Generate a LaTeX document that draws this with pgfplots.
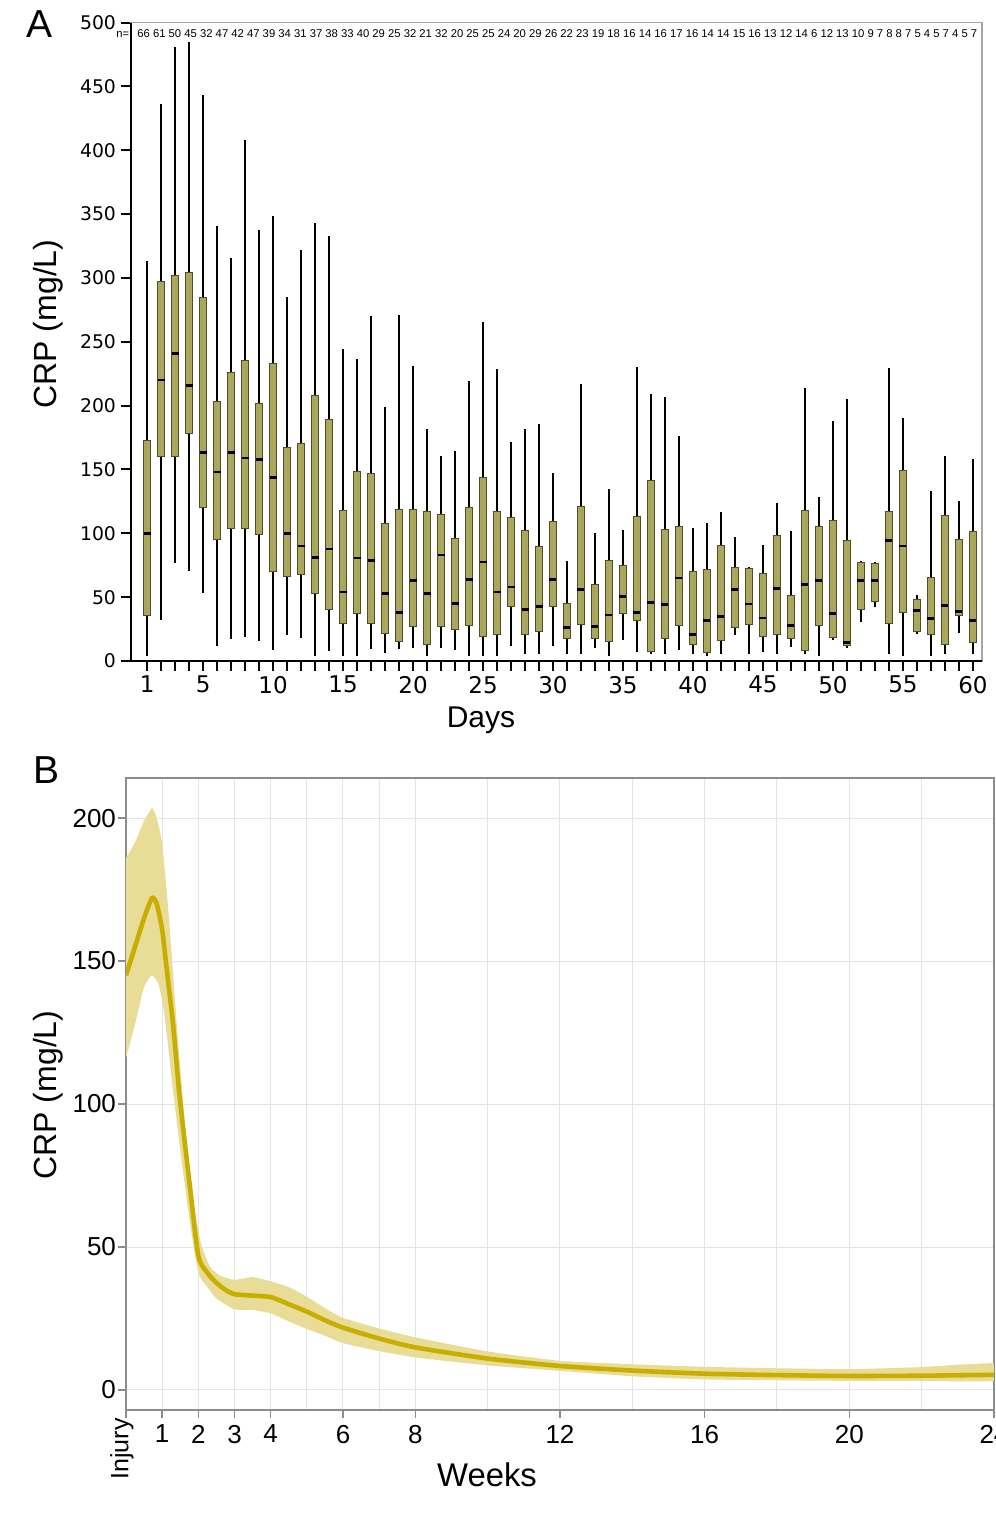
\documentclass[border=0pt]{standalone}
\usepackage{fontspec}
\setmainfont{Liberation Sans}
\newfontfamily\dejavu{DejaVu Sans}
\usepackage{pgfplots}
\pgfplotsset{compat=1.18}
\usepgfplotslibrary{statistics}

\definecolor{boxfill}{RGB}{170,166,92}
\definecolor{boxdraw}{RGB}{80,78,40}
\definecolor{meanline}{RGB}{200,174,0}
\definecolor{band}{RGB}{232,220,150}
\definecolor{gridc}{RGB}{228,228,228}
\definecolor{spineB}{RGB}{140,140,140}

\newcommand{\bx}[6]{\addplot[boxplot prepared={draw position=#1, lower whisker=#2, lower quartile=#3, median=#4, upper quartile=#5, upper whisker=#6, box extend=0.5, whisker extend=0.1}] coordinates {};}

\begin{document}
\begin{tikzpicture}
\useasboundingbox (0pt,0pt) rectangle (498pt,-764pt);
\fill[white] (0pt,0pt) rectangle (498pt,-764pt);

% ---------------- Panel A ----------------
\begin{axis}[
  scale only axis, width=425.5pt, height=319.25pt,
  at={(65.5pt,-330.5pt)}, anchor=south west,
  xmin=-0.15, xmax=60.65, ymin=0, ymax=500,
  clip=false,
  axis line style={draw=gray!70, line width=0.6pt},
  tick pos=left, tick align=outside,
  xtick={1,5,10,15,20,25,30,35,40,45,50,55,60},
  minor xtick={1,...,60},
  ytick={0,50,...,500},
  major tick length=5pt, minor tick length=5pt,
  tick style={black, line width=1pt},
  minor tick style={black, line width=1pt},
  /pgf/number format/assume math mode=true,
  yticklabel style={font=\dejavu\fontsize{9.4}{10}\selectfont, xshift=1pt},
  xticklabel style={font=\dejavu\fontsize{11.5}{12}\selectfont, yshift=1pt},
  boxplot/draw direction=y,
  boxplot/every box/.style={fill=boxfill, draw=boxdraw, line width=0.5pt},
  boxplot/every whisker/.style={black, line width=1.1pt},
  boxplot/every median/.style={black, line width=1.4pt},
]
\bx{1}{4.7}{36}{100}{173}{312}
\bx{2}{33}{160}{220}{297}{435}
\bx{3}{78}{160}{241}{302}{480}
\bx{4}{71}{178}{216}{304}{484}
\bx{5}{54}{120}{163}{285}{442}
\bx{6}{13}{95.5}{148}{203}{340}
\bx{7}{18}{104}{163}{226}{315}
\bx{8}{20}{104}{159}{235}{407}
\bx{9}{16.5}{99}{158}{202}{337}
\bx{10}{9.4}{70}{144}{233}{348}
\bx{11}{21}{66}{100}{167}{284}
\bx{12}{18.6}{67.5}{90}{170}{321}
\bx{13}{4.7}{52.6}{81}{208}{342}
\bx{14}{9}{40}{87.7}{189}{332}
\bx{15}{5}{29.6}{54}{118}{243.6}
\bx{16}{4.7}{37}{80.6}{148.6}{236}
\bx{17}{10}{29.6}{78.7}{146.8}{269}
\bx{18}{7.3}{21.7}{53}{108}{198}
\bx{19}{10}{15}{38}{119}{270}
\bx{20}{11}{27}{63}{118.5}{230.5}
\bx{21}{4.7}{13.3}{53}{117}{180.5}
\bx{22}{11}{27}{83}{115}{160}
\bx{23}{9.4}{25}{45}{96}{163.5}
\bx{24}{4.7}{27.5}{64}{120.6}{218.5}
\bx{25}{4.7}{19}{77.5}{144}{265}
\bx{26}{4.7}{20.4}{54}{117}{228}
\bx{27}{13}{43}{58}{112}{171}
\bx{28}{6}{21}{40.5}{102}{180.5}
\bx{29}{6.5}{23}{43}{90}{185}
\bx{30}{13}{43}{63.6}{109}{146.5}
\bx{31}{6}{17.8}{26}{44.7}{77.5}
\bx{32}{6}{28.8}{55.7}{121}{216}
\bx{33}{11}{17.8}{27}{60}{99.4}
\bx{34}{4.7}{15}{36}{78.5}{134}
\bx{35}{17}{37.4}{50.5}{75}{102}
\bx{36}{8}{31.6}{38}{113}{229}
\bx{37}{6}{7.3}{45.8}{141.5}{208}
\bx{38}{6}{17.8}{44.5}{103}{206}
\bx{39}{9.4}{27.5}{65}{105}{175.6}
\bx{40}{6}{13.3}{21}{70}{103}
\bx{41}{4.7}{7}{31.6}{72}{107.5}
\bx{42}{6}{16}{35}{90.5}{116}
\bx{43}{21}{26}{55.7}{73.5}{96}
\bx{44}{6}{28.3}{44.7}{72.5}{72.5}
\bx{45}{8}{19}{33.7}{68.5}{89.7}
\bx{46}{6}{21}{57}{98}{123}
\bx{47}{11.8}{17.8}{27.5}{51}{101}
\bx{48}{6}{8.6}{59.7}{118}{212.7}
\bx{49}{4.7}{27.5}{62.8}{105.5}{127.7}
\bx{50}{17}{18.6}{37.4}{110}{187}
\bx{51}{11}{11.8}{14.4}{94.5}{204}
\bx{52}{31.6}{40}{62.8}{77.5}{77.5}
\bx{53}{43}{46.6}{63}{76}{76.7}
\bx{54}{6}{29.6}{94.5}{117}{228.4}
\bx{55}{4.7}{38}{90}{149}{189.7}
\bx{56}{22}{23}{39.5}{48.4}{51}
\bx{57}{4.7}{21}{33.5}{65.7}{132.4}
\bx{58}{6}{13.3}{43.4}{113.8}{159.6}
\bx{59}{23}{35.3}{38.7}{95}{124.6}
\bx{60}{6}{14.7}{31.6}{101.5}{157}
\end{axis}
\draw[black, line width=1.2pt] (65.5pt,-11.25pt) -- (65.5pt,-330.5pt) -- (491pt,-330.5pt);
\node[anchor=east, inner sep=0pt, font=\fontsize{5.6}{6}\selectfont] at (64.8pt,-17pt) {n=};
\node[anchor=west, inner sep=0pt] at (68.5pt,-17pt) {\resizebox{420pt}{!}{\fontsize{5.6}{6}\selectfont 66 61 50 45 32 47 42 47 39 34 31 37 38 33 40 29 25 32 21 32 20 25 25 24 20 29 26 22 23 19 18 16 14 16 17 16 14 14 15 16 13 12 14 6 12 13 10 9 7 8 8 7 5 4 5 7 4 5 7}};
\node[font=\fontsize{19.5}{22}\selectfont] at (20pt,-12pt) {A};
\node[rotate=90, font=\fontsize{16}{18}\selectfont] at (24pt,-162pt) {CRP (mg/L)};
\node[font=\fontsize{15}{18}\selectfont] at (240.5pt,-360pt) {Days};

% ---------------- Panel B ----------------
\begin{axis}[
  scale only axis, width=434pt, height=316pt,
  at={(63pt,-705pt)}, anchor=south west,
  xmin=0, xmax=24, ymin=-7, ymax=214,
  axis line style={draw=spineB, line width=0.6pt},
  tick pos=left, tick align=outside,
  xtick={0,1,2,3,4,6,8,12,16,20,24},
  xticklabels={,1,2,3,4,6,8,12,16,20,24},
  minor xtick={5,7,10,14,18,22},
  ytick={0,50,100,150,200},
  grid=both,
  major grid style={gridc, line width=0.5pt},
  minor grid style={gridc, line width=0.5pt},
  major tick length=4pt, minor tick length=0pt,
  tick style={spineB, line width=0.8pt},
  /pgf/number format/assume math mode=true,
  ticklabel style={font=\fontsize{13}{14}\selectfont},
  yticklabel style={xshift=2.5pt},
]
\addplot[draw=none, fill=band, smooth, tension=0.3] coordinates {
 (0,186) (0.25,191.5) (0.5,199) (0.72,203.5) (0.85,200) (1.0,191) (1.17,168) (1.31,144) (1.45,120) (1.68,86) (1.91,62) (2.1,50) (2.33,43) (2.6,40) (3,38.5) (3.5,39.5) (4,38) (4.5,36) (5,32.6) (5.5,28.6) (6,25.2) (7,21.5) (8,18.4) (10,13.5) (12,10.2) (14,9) (16,8.1) (18,7.6) (20,7.3) (22,8) (24,9.3)
 (24,3.2) (22,3.2) (20,3.2) (18,3.4) (16,3.7) (14,4.8) (12,6.7) (10,8.6) (8,11.4) (7,13.6) (6,16.4) (5.5,19) (5,21.3) (4.5,24) (4,26.8) (3.5,28) (3,28.2) (2.5,32) (2.25,36) (2.0,41) (1.75,60) (1.5,84) (1.27,108) (1.15,122) (1.03,134) (0.9,142) (0.72,145) (0.5,141) (0.25,128) (0,116)
} -- cycle;
\addplot[meanline, line width=2.3pt, smooth, tension=0.4] coordinates {
 (0,145) (0.25,155) (0.5,165) (0.72,172) (0.85,170) (1.0,161) (1.1,150) (1.3,128) (1.48,103) (1.75,73) (2.0,47) (2.25,41) (2.5,37.5) (2.75,35) (3,33.5) (3.5,33) (4,32.5) (4.5,30) (5,27.4) (5.5,24.4) (6,21.8) (7,18) (8,14.9) (10,11) (12,8.4) (14,6.8) (16,5.7) (18,5.2) (20,4.9) (22,5) (24,5.3)
};
\end{axis}
\node[font=\fontsize{19.5}{22}\selectfont] at (23.5pt,-385pt) {B};
\node[rotate=90, font=\fontsize{16}{18}\selectfont] at (24pt,-547.5pt) {CRP (mg/L)};
\node[font=\fontsize{16.4}{19}\selectfont] at (243.5pt,-737.5pt) {Weeks};
\node[rotate=90, anchor=east, inner sep=0pt, font=\fontsize{12.5}{14}\selectfont] at (61pt,-709pt) {Injury};
\end{tikzpicture}
\end{document}
